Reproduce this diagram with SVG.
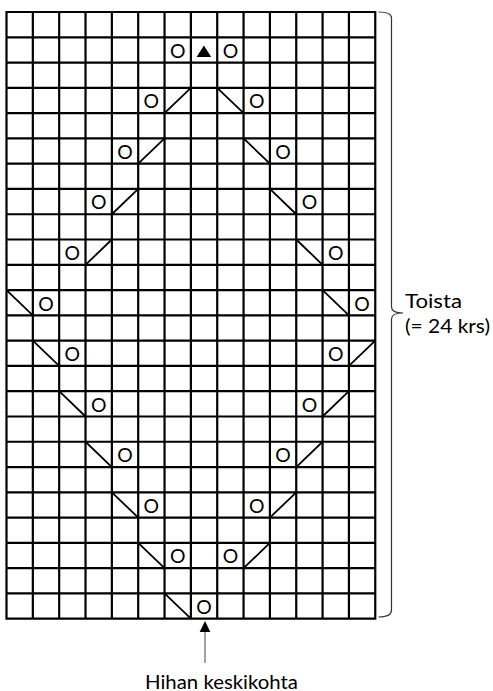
<svg xmlns="http://www.w3.org/2000/svg" width="493" height="691" viewBox="0 0 493 691">
<style>
.grid{fill:none;stroke:#000;stroke-width:2.2}
.dg{fill:none;stroke:#000;stroke-width:1.8}
.o{font-family:Lato,"Liberation Sans",sans-serif;font-size:20px;text-anchor:middle;fill:#000}
.lbl{font-family:Lato,"Liberation Sans",sans-serif;font-size:18.5px;fill:#000}
</style>
<rect width="493" height="691" fill="#fff"/>
<g id="grid">
<path class="grid" d="M6.5 12V618.72M32.84 12V618.72M59.18 12V618.72M85.52 12V618.72M111.86 12V618.72M138.2 12V618.72M164.54 12V618.72M190.88 12V618.72M217.22 12V618.72M243.56 12V618.72M269.9 12V618.72M296.24 12V618.72M322.58 12V618.72M348.92 12V618.72M375.26 12V618.72
M5.4 12H376.36M5.4 37.28H376.36M5.4 62.56H376.36M5.4 87.84H376.36M5.4 113.12H376.36M5.4 138.4H376.36M5.4 163.68H376.36M5.4 188.96H376.36M5.4 214.24H376.36M5.4 239.52H376.36M5.4 264.8H376.36M5.4 290.08H376.36M5.4 315.36H376.36M5.4 340.64H376.36M5.4 365.92H376.36M5.4 391.2H376.36M5.4 416.48H376.36M5.4 441.76H376.36M5.4 467.04H376.36M5.4 492.32H376.36M5.4 517.6H376.36M5.4 542.88H376.36M5.4 568.16H376.36M5.4 593.44H376.36M5.4 618.72H376.36"/>
</g>
<g id="decreases">
<path class="dg" d="M164.54 113.12L190.88 87.84M217.22 87.84L243.56 113.12
M138.2 163.68L164.54 138.4M243.56 138.4L269.9 163.68
M111.86 214.24L138.2 188.96M269.9 188.96L296.24 214.24
M85.52 264.8L111.86 239.52M296.24 239.52L322.58 264.8
M6.5 290.08L32.84 315.36M322.58 290.08L348.92 315.36
M32.84 340.64L59.18 365.92M348.92 365.92L375.26 340.64
M59.18 391.2L85.52 416.48M322.58 416.48L348.92 391.2
M85.52 441.76L111.86 467.04M296.24 467.04L322.58 441.76
M111.86 492.32L138.2 517.6M269.9 517.6L296.24 492.32
M138.2 542.88L164.54 568.16M243.56 568.16L269.9 542.88
M164.54 593.44L190.88 618.72"/>
</g>
<g id="center-decrease">
<polygon points="196.6,57 211.2,57 203.9,45.6" fill="#000"/>
</g>
<g id="yarnovers">
<text class="o" x="177.71" y="57.72" textLength="15.5" lengthAdjust="spacingAndGlyphs">O</text><text class="o" x="230.39" y="57.72" textLength="15.5" lengthAdjust="spacingAndGlyphs">O</text>
<text class="o" x="151.37" y="108.28" textLength="15.5" lengthAdjust="spacingAndGlyphs">O</text><text class="o" x="256.73" y="108.28" textLength="15.5" lengthAdjust="spacingAndGlyphs">O</text>
<text class="o" x="125.03" y="158.84" textLength="15.5" lengthAdjust="spacingAndGlyphs">O</text><text class="o" x="283.07" y="158.84" textLength="15.5" lengthAdjust="spacingAndGlyphs">O</text>
<text class="o" x="98.69" y="209.4" textLength="15.5" lengthAdjust="spacingAndGlyphs">O</text><text class="o" x="309.41" y="209.4" textLength="15.5" lengthAdjust="spacingAndGlyphs">O</text>
<text class="o" x="72.35" y="259.96" textLength="15.5" lengthAdjust="spacingAndGlyphs">O</text><text class="o" x="335.75" y="259.96" textLength="15.5" lengthAdjust="spacingAndGlyphs">O</text>
<text class="o" x="46.01" y="310.52" textLength="15.5" lengthAdjust="spacingAndGlyphs">O</text><text class="o" x="362.09" y="310.52" textLength="15.5" lengthAdjust="spacingAndGlyphs">O</text>
<text class="o" x="72.35" y="361.08" textLength="15.5" lengthAdjust="spacingAndGlyphs">O</text><text class="o" x="335.75" y="361.08" textLength="15.5" lengthAdjust="spacingAndGlyphs">O</text>
<text class="o" x="98.69" y="411.64" textLength="15.5" lengthAdjust="spacingAndGlyphs">O</text><text class="o" x="309.41" y="411.64" textLength="15.5" lengthAdjust="spacingAndGlyphs">O</text>
<text class="o" x="125.03" y="462.2" textLength="15.5" lengthAdjust="spacingAndGlyphs">O</text><text class="o" x="283.07" y="462.2" textLength="15.5" lengthAdjust="spacingAndGlyphs">O</text>
<text class="o" x="151.37" y="512.76" textLength="15.5" lengthAdjust="spacingAndGlyphs">O</text><text class="o" x="256.73" y="512.76" textLength="15.5" lengthAdjust="spacingAndGlyphs">O</text>
<text class="o" x="177.71" y="563.32" textLength="15.5" lengthAdjust="spacingAndGlyphs">O</text><text class="o" x="230.39" y="563.32" textLength="15.5" lengthAdjust="spacingAndGlyphs">O</text>
<text class="o" x="204.05" y="613.88" textLength="15.5" lengthAdjust="spacingAndGlyphs">O</text>
</g>
<g id="repeat-brace">
<path d="M378.5 12Q391.5 12 391.5 18V307Q391.5 313 403 313Q391.5 313 391.5 319V610Q391.5 617 378.5 617" fill="none" stroke="#333" stroke-width="1.2"/>
<text class="lbl" x="405" y="307.5" textLength="57" lengthAdjust="spacingAndGlyphs">Toista</text>
<text class="lbl" x="405" y="333" textLength="85" lengthAdjust="spacingAndGlyphs">(= 24 krs)</text>
</g>
<g id="center-marker">
<line x1="205" y1="630" x2="205" y2="663" stroke="#444" stroke-width="1"/>
<polygon points="205,621 199.7,632 210.3,632" fill="#000"/>
<text class="lbl" x="145" y="688.5" font-size="20" textLength="153" lengthAdjust="spacingAndGlyphs">Hihan keskikohta</text>
</g>
</svg>
